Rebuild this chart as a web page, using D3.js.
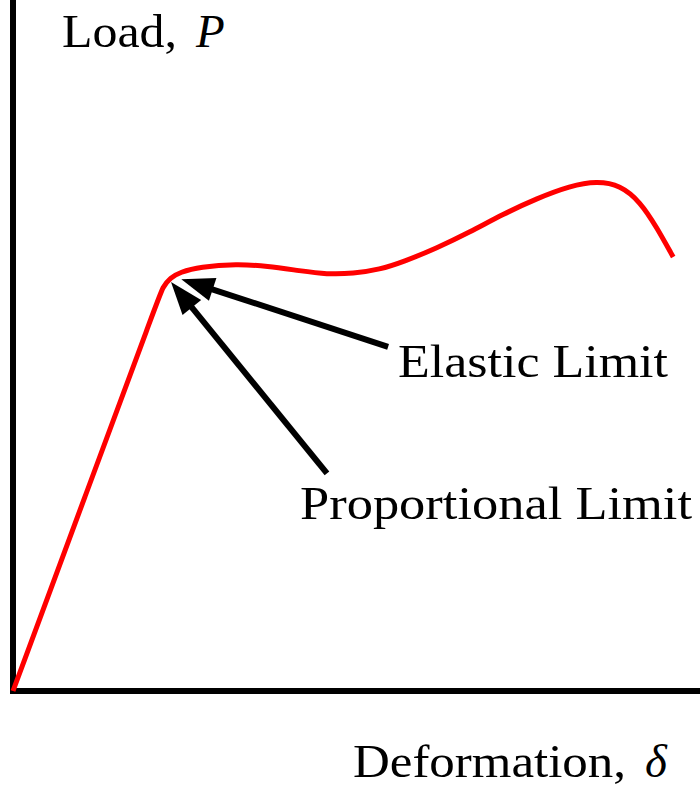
<!DOCTYPE html>
<html>
<head>
<meta charset="utf-8">
<script src="https://cdn.jsdelivr.net/npm/d3@7"></script>
<style>
  body { margin: 0; background: #fff; }
  text { font-family: "Liberation Serif", "DejaVu Serif", serif; font-size: 47px; fill: #000; }
</style>
</head>
<body>
<div id="chart"></div>
<script>
// load-deformation curve (arbitrary units)
const deformation = [0, 1.05, 2.10, 2.18, 2.29, 2.43, 2.72, 3.26, 3.70, 4.18, 4.57, 4.95, 5.34, 5.68, 6.17, 6.65, 7.13, 7.63, 8.11, 8.50, 8.84, 9.13, 9.37, 9.61];
const load = [0, 2.82, 5.63, 5.85, 5.98, 6.06, 6.14, 6.18, 6.15, 6.08, 6.03, 6.04, 6.10, 6.21, 6.41, 6.64, 6.90, 7.13, 7.31, 7.38, 7.32, 7.08, 6.71, 6.28];

// annotation arrows: label, tail [x, y], tip [x, y]
const arrowLabels = ['Elastic Limit', 'Proportional Limit'];
const arrowTails = [[5.46, 4.98], [4.57, 3.15]];
const arrowTips = [[2.45, 5.96], [2.30, 5.92]];

const width = 700, height = 786;
const margin = { top: 0, right: 0, bottom: 95, left: 13 };

const svg = d3.select('#chart')
  .append('svg')
  .attr('width', width)
  .attr('height', height);

const x = d3.scaleLinear()
  .domain([0, 10])
  .range([margin.left, width - margin.right]);
const y = d3.scaleLinear()
  .domain([0, 10])
  .range([height - margin.bottom, margin.top]);

// axes as plain thick lines
svg.append('line')
  .attr('x1', x(0)).attr('y1', y(0) + 3)
  .attr('x2', x(0)).attr('y2', y(10))
  .attr('stroke', '#000').attr('stroke-width', 6);
svg.append('line')
  .attr('x1', x(0) - 3).attr('y1', y(0))
  .attr('x2', x(10)).attr('y2', y(0))
  .attr('stroke', '#000').attr('stroke-width', 6);

const points = deformation.map((d, i) => [d, load[i]]);
const line = d3.line()
  .x(d => x(d[0]))
  .y(d => y(d[1]))
  .curve(d3.curveBasis);

svg.append('path')
  .datum(points)
  .attr('d', line)
  .attr('fill', 'none')
  .attr('stroke', '#ff0000')
  .attr('stroke-width', 5);

// arrows
const headLen = 33, headHalf = 12;
arrowTips.forEach((tip, i) => {
  const tx = x(tip[0]), ty = y(tip[1]);
  const sx = x(arrowTails[i][0]), sy = y(arrowTails[i][1]);
  const len = Math.hypot(sx - tx, sy - ty);
  const ux = (sx - tx) / len, uy = (sy - ty) / len;
  const bx = tx + ux * headLen, by = ty + uy * headLen;
  svg.append('line')
    .attr('x1', sx).attr('y1', sy)
    .attr('x2', bx - ux * 2).attr('y2', by - uy * 2)
    .attr('stroke', '#000').attr('stroke-width', 6);
  svg.append('polygon')
    .attr('points', [
      [tx, ty],
      [bx - uy * headHalf, by + ux * headHalf],
      [bx + uy * headHalf, by - ux * headHalf]
    ].map(p => p.join(',')).join(' '))
    .attr('fill', '#000');
});

// labels
svg.append('text')
  .attr('x', 398).attr('y', 377)
  .attr('textLength', 270).attr('lengthAdjust', 'spacingAndGlyphs')
  .text(arrowLabels[0]);
svg.append('text')
  .attr('x', 300).attr('y', 519)
  .attr('textLength', 392).attr('lengthAdjust', 'spacingAndGlyphs')
  .text(arrowLabels[1]);

svg.append('text')
  .attr('x', 62).attr('y', 47)
  .attr('textLength', 115).attr('lengthAdjust', 'spacingAndGlyphs')
  .text('Load,');
svg.append('text')
  .attr('x', 196).attr('y', 47)
  .attr('font-style', 'italic')
  .text('P');

svg.append('text')
  .attr('x', 353).attr('y', 777)
  .attr('textLength', 273).attr('lengthAdjust', 'spacingAndGlyphs')
  .text('Deformation,');
svg.append('text')
  .attr('x', 645).attr('y', 777)
  .attr('font-style', 'italic')
  .text('δ');
</script>
</body>
</html>
